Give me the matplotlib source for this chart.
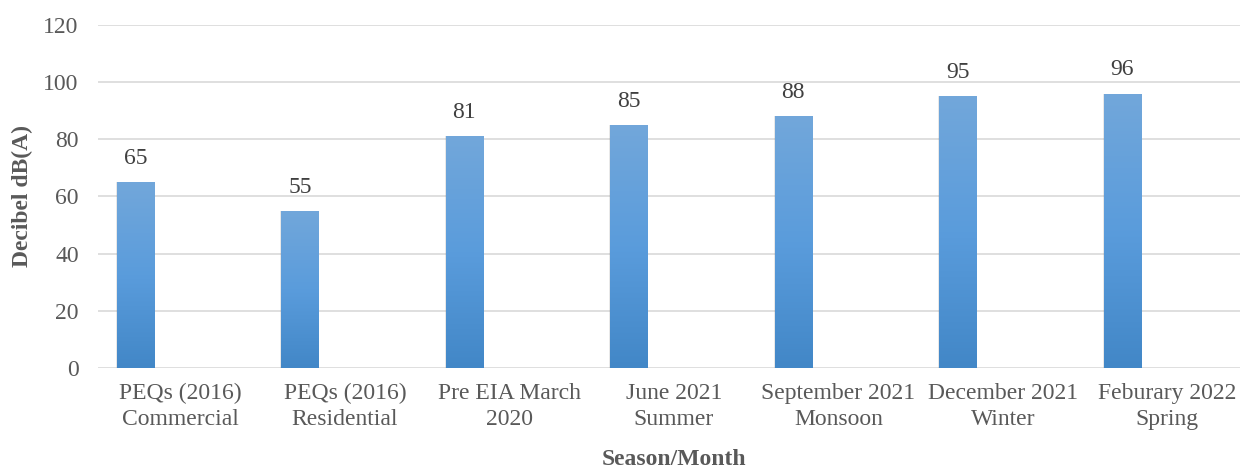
#!/usr/bin/env python3

import numpy as np
import matplotlib
matplotlib.use('Agg')
import matplotlib.pyplot as plt
from matplotlib.colors import LinearSegmentedColormap

categories = ['PEQs (2016)\nCommercial', 'PEQs (2016)\nResidential',
              'Pre EIA March\n2020', 'June 2021\nSummer',
              'September 2021\nMonsoon', 'December 2021\nWinter',
              'Feburary 2022\nSpring']
values = [65, 55, 81, 85, 88, 95, 96]
yticks = [0, 20, 40, 60, 80, 100, 120]

plt.rcParams['font.family'] = ['Liberation Serif', 'DejaVu Serif']

fig = plt.figure(figsize=(12.4, 4.68), dpi=100)
ax = fig.add_axes([0.0792, 0.2137, 0.9286, 0.733])

x = np.arange(len(categories))
offset = -0.274
width = 0.225

# soft shadow behind the bars
ax.bar(x + offset, values, width=width + 0.012, color='#808080', alpha=0.18, zorder=2)
bars = ax.bar(x + offset, values, width=width, color='#5B9BD5', zorder=3)

# vertical gradient like the Excel fill, light at the top
cmap = LinearSegmentedColormap.from_list('bar', ['#4287C7', '#5A9CDC', '#72A7DA'])
grad = np.linspace(0, 1, 256).reshape(-1, 1)
for b in bars:
    x0, y0 = b.get_x(), b.get_y()
    x1, y1 = x0 + b.get_width(), y0 + b.get_height()
    im = ax.imshow(grad, cmap=cmap, origin='lower', aspect='auto',
                   extent=[x0, x1, y0, y1], zorder=4)
    im.set_clip_path(b)

for xi, v in zip(x, values):
    ax.annotate(str(v), (xi + offset, v), xytext=(0, 13), textcoords='offset points',
                ha='center', va='baseline', fontsize=17, color='#404040')

ax.set_xlim(-0.5, len(categories) - 0.5)
ax.set_ylim(0, 120)
ax.set_yticks(yticks)
ax.set_xticks(x)
ax.set_xticklabels(categories, linespacing=1.3)
ax.tick_params(axis='both', length=0, labelsize=17, labelcolor='#595959')
ax.tick_params(axis='y', pad=14)
ax.tick_params(axis='x', pad=11)
ax.grid(axis='y', color='#D9D9D9', linewidth=1.2, zorder=0)
for s in ax.spines.values():
    s.set_visible(False)

ax.set_ylabel('Decibel dB(A)', fontsize=17, fontweight='bold', color='#595959')
ax.yaxis.set_label_coords(-0.0567, 0.5)
ax.set_xlabel('Season/Month', fontsize=17, fontweight='bold', color='#595959')
ax.xaxis.set_label_coords(0.5, -0.235)

fig.savefig('out.png', dpi=100)
